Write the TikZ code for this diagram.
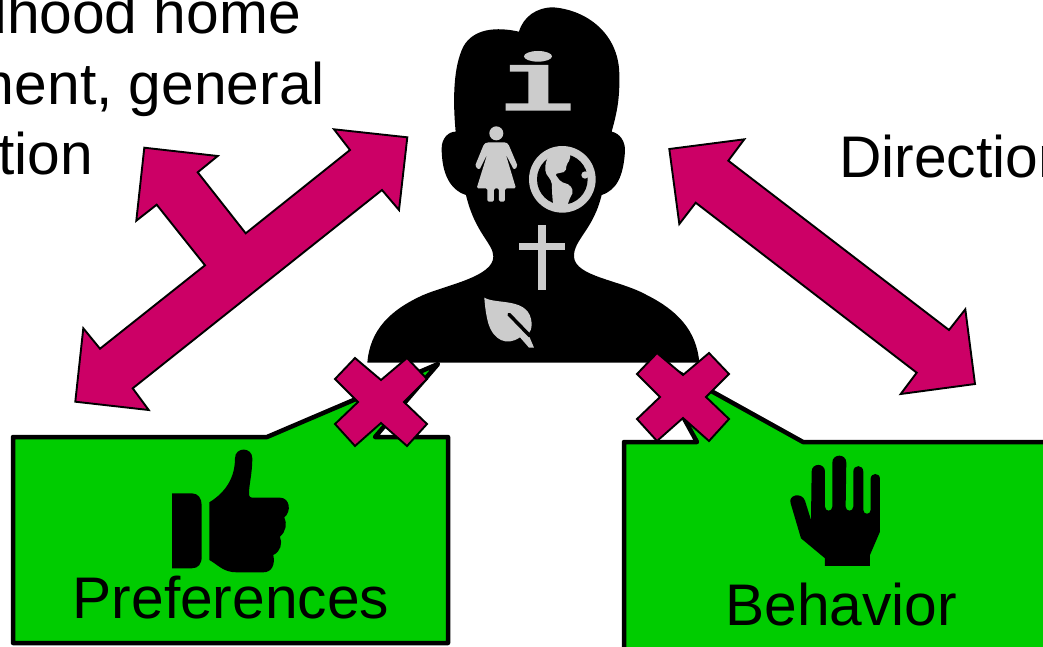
\documentclass[tikz,border=0pt]{standalone}
\usepackage{fontspec,xcolor}
\setmainfont{Liberation Sans}
\definecolor{arrowpink}{HTML}{CC0066}
\definecolor{boxgreen}{HTML}{00CC00}
\definecolor{icongray}{HTML}{CCCCCC}

\begin{document}
\begin{tikzpicture}[x=1pt,y=-1pt]
\tikzset{label text/.style={font=\fontsize{58.7}{70}\selectfont,inner sep=0pt,text=black}}
\tikzset{fat arrow/.style={fill=arrowpink,draw=black,line width=1.9pt,line join=miter}}
\tikzset{speech box/.style={fill=boxgreen,draw=black,line width=4.5pt,line join=round}}
\tikzset{light icon/.style={fill=icongray}}
\tikzset{zoomed/.style={x=.3333pt,y=-.3333pt}}
\tikzset{xmark/.pic={\draw[fat arrow] (-26,-44)--(0,-22)--(26,-44)--(46,-23)--(23,0)--(46,22)--(26,44)--(0,21)--(-26,44)--(-46,22)--(-23,0)--(-46,-23)--cycle;}}
\path[use as bounding box,clip] (0,0) rectangle (1043,646);
\fill[white] (0,0) rectangle (1043,646);
% text up in the corners
\node[label text,anchor=base east] (home) at (301,33) {dhood home};
\node[label text,anchor=base east] (general) at (325,104) {ment, general};
\node[label text,anchor=base east] (educ) at (93,174) {tion};
\node[label text,anchor=base west] (direction) at (839,177) {Direction};
% head and shoulders
\begin{scope}[shift={(360,0)},zoomed]
\fill[black] (22,1088) .. controls (30,990) and (90,930) .. (190,885)
  .. controls (260,855) and (400,830) .. (400,770)
  .. controls (400,730) and (345,700) .. (318,585)
  .. controls (270,570) and (245,520) .. (245,445)
  .. controls (245,415) and (265,395) .. (287,395)
  .. controls (278,300) and (280,200) .. (310,140)
  .. controls (340,85) and (410,80) .. (477,95)
  .. controls (490,50) and (530,22) .. (580,22)
  .. controls (680,30) and (775,100) .. (778,220)
  .. controls (780,300) and (770,340) .. (755,395)
  .. controls (780,400) and (797,425) .. (795,455)
  .. controls (790,530) and (770,570) .. (725,585)
  .. controls (700,690) and (640,720) .. (642,770)
  .. controls (645,830) and (780,840) .. (860,885)
  .. controls (950,930) and (1010,990) .. (1018,1088) -- cycle;
% letter i
\fill[light icon] (534,169) ellipse (42 and 16);
\fill[light icon] (450,195)--(565,195)--(565,310)--(632,310)--(632,332)--(437,332)--(437,310)--(505,310)--(505,215)--(450,215)--cycle;
% woman
\fill[light icon] (409,400) circle (21);
\fill[light icon,rounded corners=1.5pt] (382,427)--(437,427)--(445,432)--(473,498)--(462,510)--(437,462)--(468,565)--(435,565)--(435,605)--(417,605)--(417,565)--(402,565)--(402,605)--(382,605)--(382,565)--(350,565)--(382,462)--(358,510)--(345,498)--(372,432)--cycle;
% cross
\fill[light icon] (534,675) rectangle (558,870);
\fill[light icon] (477,729) rectangle (615,751);
% leaf
\fill[light icon] (373,893) .. controls (410,915) and (510,890) .. (515,970)
  .. controls (515,985) and (512,995) .. (505,1003) -- (522,1043) -- (507,1043) -- (480,1012)
  .. controls (440,1040) and (400,1020) .. (385,970) .. controls (378,945) and (375,920) .. (373,893) -- cycle;
\draw[black,line width=3.5pt,line cap=round] (447,943) -- (510,1008);
\end{scope}
% globe
\begin{scope}[shift={(520,140)},zoomed]
\fill[light icon] (127,118) circle (100);
\fill[black] (127,118) circle (76);
\fill[light icon,rounded corners=2pt] (90,35)--(150,35)--(150,60)--(140,72)--(137,95)--(105,102)--(122,125)--(150,135)--(160,155)--(147,180)--(142,200)--(100,200)--(97,170)--(95,125)--(76,97)--(76,72)--cycle;
\fill[light icon] (195,105) circle (11);
\end{scope}
% the two speech boxes
\draw[speech box] (13,437)--(267,437)--(438,364)--(375,437)--(448,437)--(448,643)--(13,643)--cycle;
\draw[speech box] (624,442)--(697,442)--(650,357)--(803,442)--(1060,442)--(1060,660)--(624,660)--cycle;
\node[label text,anchor=base west] (prefs) at (72.5,618) {Preferences};
\node[label text,anchor=base west] (behav) at (725,625) {Behavior};
% thumb
\begin{scope}[shift={(150,340)},zoomed]
\fill[black] (66,460) -- (125,460) .. controls (145,460) and (155,475) .. (155,495) -- (155,650) .. controls (155,672) and (145,685) .. (125,685) -- (66,685) -- cycle;
\fill[black] (178,487) .. controls (230,455) and (255,410) .. (255,355)
  .. controls (255,320) and (307,320) .. (307,355)
  .. controls (307,400) and (297,435) .. (297,460) .. controls (297,470) and (300,473) .. (310,473)
  -- (390,473) .. controls (420,473) and (425,515) .. (403,532)
  .. controls (412,550) and (408,575) .. (390,590)
  .. controls (398,610) and (392,635) .. (370,645)
  .. controls (376,675) and (365,697) .. (340,697)
  -- (260,697) .. controls (220,697) and (205,675) .. (178,660) -- cycle;
\end{scope}
% hand
\begin{scope}[shift={(620,340)},zoomed]
\fill[black] (615,678) -- (750,678) -- (750,645) -- (780,575) -- (780,417)
  .. controls (780,397) and (752,397) .. (752,417) -- (752,510)
  .. controls (752,525) and (730,525) .. (730,510) -- (730,395)
  .. controls (730,373) and (700,373) .. (700,395) -- (700,500)
  .. controls (700,516) and (677,516) .. (677,500) -- (679,368)
  .. controls (679,340) and (637,340) .. (637,368) -- (637,500)
  .. controls (637,516) and (615,516) .. (615,500) -- (615,395)
  .. controls (615,368) and (575,368) .. (575,395) -- (573,540) -- (555,482)
  .. controls (545,455) and (503,465) .. (512,490) -- (543,595) -- (615,655) -- cycle;
\end{scope}
% pink arrows
\draw[fat arrow] (407.3,137.3)--(334,129.3)--(350,150)--(245.7,233.3)--(197.7,172.3)--(217.7,156)--(144.3,147.7)--(136.3,220.7)--(156.7,204.7)--(205,265.3)--(100,348.7)--(83.3,328.3)--(75.3,401.7)--(148.7,410)--(132.7,388.3)--(382,190)--(399,210)--cycle;
\draw[fat arrow] (669.3,149)--(744.3,139.3)--(728.3,160.7)--(949,330)--(965.3,309.3)--(975,384)--(900.7,394)--(916.7,372.7)--(695.7,202.7)--(679.3,224)--cycle;
\pic at (381,402) {xmark};
\pic at (683,397) {xmark};
\end{tikzpicture}
\end{document}
